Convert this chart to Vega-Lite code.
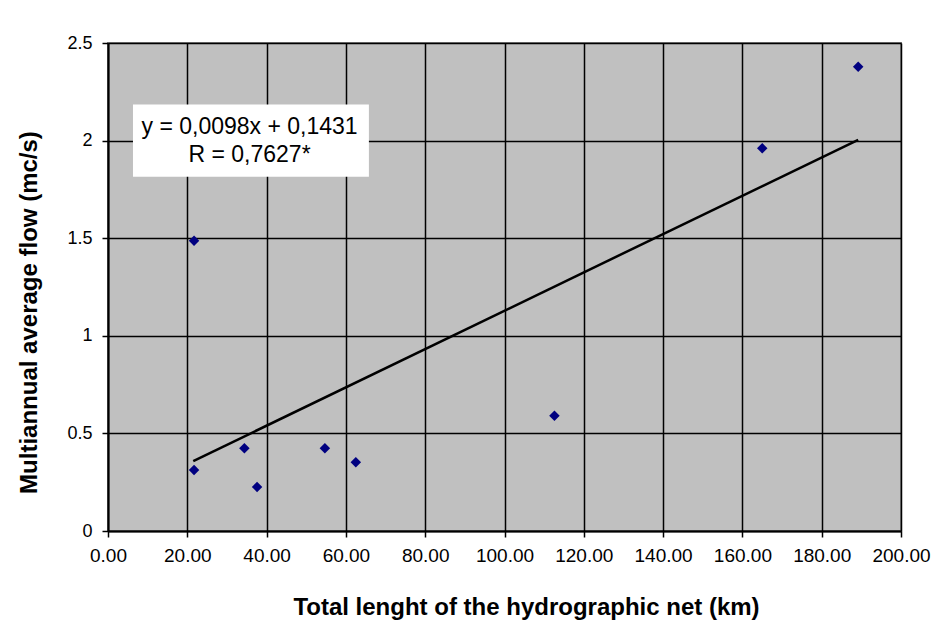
{
  "$schema": "https://vega.github.io/schema/vega-lite/v6.json",
  "width": 793,
  "height": 488,
  "autosize": {"type": "none"},
  "padding": {"left": 108, "top": 43, "right": 37, "bottom": 95},
  "background": "white",
  "config": {
    "view": {"fill": "#C0C0C0", "stroke": "#808080", "strokeWidth": 2},
    "font": "Liberation Sans",
    "axis": {
      "labelFont": "Liberation Sans", "labelColor": "black", "labelOverlap": false,
      "titleFont": "Liberation Sans", "titleFontSize": 24, "titleFontWeight": "bold", "titleColor": "black",
      "gridColor": "black", "gridOpacity": 1, "gridWidth": 1.5,
      "tickColor": "black", "tickSize": 6, "tickWidth": 1.5, "domainColor": "black", "domainWidth": 2
    }
  },
  "datasets": {
    "points": [
      {"length": 21.7, "flow": 0.313},
      {"length": 21.7, "flow": 1.487},
      {"length": 34.4, "flow": 0.424},
      {"length": 37.6, "flow": 0.226},
      {"length": 54.7, "flow": 0.424},
      {"length": 62.5, "flow": 0.352},
      {"length": 112.6, "flow": 0.590},
      {"length": 165.0, "flow": 1.961},
      {"length": 189.2, "flow": 2.378}
    ],
    "trend": [
      {"length": 21.5, "flow": 0.358},
      {"length": 189.2, "flow": 2.004}
    ]
  },
  "layer": [
    {
      "data": {"name": "points"},
      "mark": {"type": "point", "shape": "diamond", "filled": true, "color": "#000080", "size": 110, "opacity": 1},
      "encoding": {
        "x": {
          "field": "length", "type": "quantitative",
          "scale": {"domain": [0, 200], "nice": false, "zero": true},
          "axis": {
            "values": [0, 20, 40, 60, 80, 100, 120, 140, 160, 180, 200],
            "format": ".2f", "labelPadding": 9, "labelFontSize": 19, "labelFlush": false,
            "title": "Total lenght of the hydrographic net (km)",
            "titleX": 418, "titleY": 76, "titleAlign": "center", "titleBaseline": "middle"
          }
        },
        "y": {
          "field": "flow", "type": "quantitative",
          "scale": {"domain": [0, 2.5], "nice": false},
          "axis": {
            "values": [0, 0.5, 1, 1.5, 2, 2.5],
            "format": "~g", "labelPadding": 10, "labelFontSize": 18, "labelFlush": false,
            "title": "Multiannual average flow (mc/s)",
            "titleX": -79, "titleY": 269, "titleAngle": -90, "titleAlign": "center", "titleBaseline": "middle"
          }
        }
      }
    },
    {
      "data": {"name": "trend"},
      "mark": {"type": "line", "color": "black", "strokeWidth": 2.5},
      "encoding": {
        "x": {"field": "length", "type": "quantitative"},
        "y": {"field": "flow", "type": "quantitative"}
      }
    },
    {
      "data": {"values": [{"a": 1}]},
      "mark": {"type": "rect", "fill": "white"},
      "encoding": {
        "x": {"datum": 6.3, "type": "quantitative"},
        "x2": {"datum": 65.8},
        "y": {"datum": 2.185, "type": "quantitative"},
        "y2": {"datum": 1.815}
      }
    },
    {
      "data": {"values": [{"line": "y = 0,0098x + 0,1431"}]},
      "mark": {"type": "text", "fontSize": 23, "color": "black", "align": "center", "baseline": "middle", "font": "Liberation Sans"},
      "encoding": {
        "x": {"datum": 35.7, "type": "quantitative"},
        "y": {"datum": 2.072, "type": "quantitative"},
        "text": {"field": "line"}
      }
    },
    {
      "data": {"values": [{"line": "R = 0,7627*"}]},
      "mark": {"type": "text", "fontSize": 23, "color": "black", "align": "center", "baseline": "middle", "font": "Liberation Sans"},
      "encoding": {
        "x": {"datum": 35.7, "type": "quantitative"},
        "y": {"datum": 1.928, "type": "quantitative"},
        "text": {"field": "line"}
      }
    }
  ]
}
